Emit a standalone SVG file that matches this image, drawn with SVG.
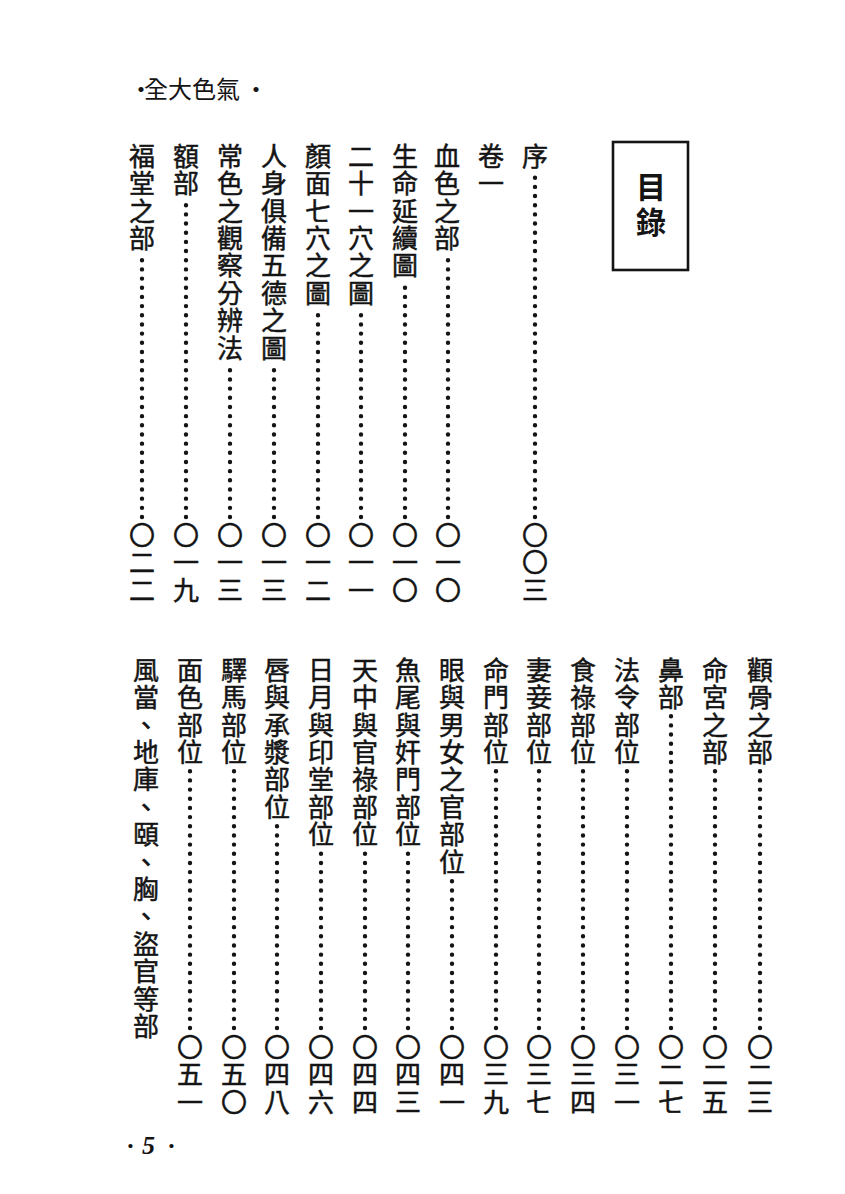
<svg xmlns="http://www.w3.org/2000/svg" width="845" height="1194" viewBox="0 0 845 1194">
<style>
.v{font-family:"Noto Sans CJK TC","Noto Sans CJK SC",sans-serif;font-size:26px;fill:#141414;stroke:#141414;stroke-width:0.5px;writing-mode:vertical-rl;text-orientation:upright;letter-spacing:1.4px}
.h{font-family:"Noto Sans CJK TC","Noto Sans CJK SC",sans-serif;font-size:24px;fill:#141414}
.dots{fill:none;stroke:#141414;stroke-width:4.4;stroke-linecap:round;stroke-dasharray:0 9.17}
</style>
<rect width="845" height="1194" fill="#ffffff"/>
<g id="header"><text class="h" x="129 144 168 192 216 244" y="98">·全大色氣·</text></g>
<g id="title-box">
<rect x="613" y="142" width="75" height="128" fill="none" stroke="#141414" stroke-width="2.6"/>
<text class="v" x="651" y="172" style="font-size:30px;font-weight:bold;stroke-width:0;letter-spacing:5px">目錄</text>
</g>
<g id="top-entries">
<g id="e-xu"><text class="v" x="535" y="143">序</text><text class="v" x="535" y="522">〇〇三</text></g>
<g id="e-juan1"><text class="v" x="491" y="143">卷一</text></g>
<g id="e-xuese"><text class="v" x="447" y="143">血色之部</text><text class="v" x="448" y="522">〇一〇</text></g>
<g id="e-shengming"><text class="v" x="405" y="143">生命延續圖</text><text class="v" x="405" y="522">〇一〇</text></g>
<g id="e-21xue"><text class="v" x="361" y="143">二十一穴之圖</text><text class="v" x="361" y="522">〇一一</text></g>
<g id="e-yanmian"><text class="v" x="318" y="143">顏面七穴之圖</text><text class="v" x="318" y="522">〇一二</text></g>
<g id="e-renshen"><text class="v" x="274" y="143">人身俱備五德之圖</text><text class="v" x="274" y="522">〇一三</text></g>
<g id="e-changse"><text class="v" x="230" y="143">常色之觀察分辨法</text><text class="v" x="230" y="522">〇一三</text></g>
<g id="e-ebu"><text class="v" x="186" y="143">額部</text><text class="v" x="186" y="522">〇一九</text></g>
<g id="e-futang"><text class="v" x="142" y="143">福堂之部</text><text class="v" x="142" y="522">〇二二</text></g>
</g>
<g id="bottom-entries">
<g id="e-quangu"><text class="v" x="760" y="657">顴骨之部</text><text class="v" x="760" y="1034">〇二三</text></g>
<g id="e-minggong"><text class="v" x="715" y="657">命宮之部</text><text class="v" x="715" y="1034">〇二五</text></g>
<g id="e-bibu"><text class="v" x="671" y="657">鼻部</text><text class="v" x="671" y="1034">〇二七</text></g>
<g id="e-faling"><text class="v" x="627" y="657">法令部位</text><text class="v" x="627" y="1034">〇三一</text></g>
<g id="e-shilu"><text class="v" x="583" y="657">食祿部位</text><text class="v" x="583" y="1034">〇三四</text></g>
<g id="e-qiqie"><text class="v" x="539" y="657">妻妾部位</text><text class="v" x="539" y="1034">〇三七</text></g>
<g id="e-mingmen"><text class="v" x="496" y="657">命門部位</text><text class="v" x="496" y="1034">〇三九</text></g>
<g id="e-yan"><text class="v" x="452" y="657">眼與男女之官部位</text><text class="v" x="452" y="1034">〇四一</text></g>
<g id="e-yuwei"><text class="v" x="408" y="657">魚尾與奸門部位</text><text class="v" x="408" y="1034">〇四三</text></g>
<g id="e-tianzhong"><text class="v" x="365" y="657">天中與官祿部位</text><text class="v" x="365" y="1034">〇四四</text></g>
<g id="e-riyue"><text class="v" x="321" y="657">日月與印堂部位</text><text class="v" x="321" y="1034">〇四六</text></g>
<g id="e-chun"><text class="v" x="277" y="657">唇與承漿部位</text><text class="v" x="277" y="1034">〇四八</text></g>
<g id="e-yima"><text class="v" x="234" y="657">驛馬部位</text><text class="v" x="234" y="1034">〇五〇</text></g>
<g id="e-mianse"><text class="v" x="190" y="657">面色部位</text><text class="v" x="190" y="1034">〇五一</text></g>
<g id="e-fengdang"><text class="v" x="146" y="657">風當、地庫、頤、胸、盜官等部</text></g>
</g>
<g id="leaders">
<path class="dots" d="M535 517V174"/>
<path class="dots" d="M448 517V256"/>
<path class="dots" d="M405 517V284"/>
<path class="dots" d="M361 517V311"/>
<path class="dots" d="M318 517V311"/>
<path class="dots" d="M274 517V366"/>
<path class="dots" d="M230 517V366"/>
<path class="dots" d="M186 517V202"/>
<path class="dots" d="M142 517V256"/>
<path class="dots" d="M760 1028V770"/>
<path class="dots" d="M715 1028V770"/>
<path class="dots" d="M671 1028V716"/>
<path class="dots" d="M627 1028V770"/>
<path class="dots" d="M583 1028V770"/>
<path class="dots" d="M539 1028V770"/>
<path class="dots" d="M496 1028V770"/>
<path class="dots" d="M452 1028V880"/>
<path class="dots" d="M408 1028V853"/>
<path class="dots" d="M365 1028V853"/>
<path class="dots" d="M321 1028V853"/>
<path class="dots" d="M277 1028V825"/>
<path class="dots" d="M234 1028V770"/>
<path class="dots" d="M190 1028V770"/>
</g>
<g id="folio"><text x="127 142 168" y="1154" style="font-family:'Liberation Serif',serif;font-size:26px;font-weight:bold;font-style:italic;fill:#141414">·5·</text></g>
</svg>
